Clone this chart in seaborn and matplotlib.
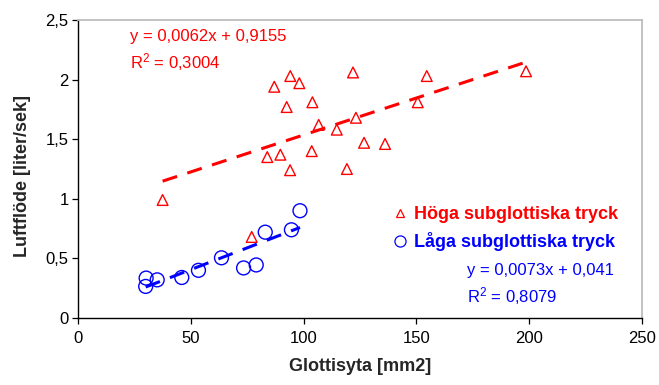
import numpy as np
import pandas as pd
import matplotlib
matplotlib.use("Agg")
import matplotlib.pyplot as plt
from matplotlib.lines import Line2D
import seaborn as sns

# ---- data ----
high_x = [87.0, 94.1, 98.1, 121.9, 154.6, 92.5, 103.9, 106.7, 114.7, 123.2,
          150.6, 83.9, 89.7, 103.6, 126.8, 136.1, 94.0, 119.2, 198.6, 37.5, 77.0]
high_y = [1.94, 2.03, 1.97, 2.06, 2.03, 1.77, 1.81, 1.62, 1.58, 1.68,
          1.81, 1.35, 1.37, 1.40, 1.47, 1.46, 1.24, 1.25, 2.07, 0.99, 0.68]
low_x = [98.4, 83.0, 94.6, 79.0, 73.4, 63.6, 53.4, 46.0, 35.1, 30.2, 30.0]
low_y = [0.90, 0.72, 0.74, 0.445, 0.42, 0.505, 0.40, 0.34, 0.32, 0.335, 0.265]

high_fit = [0.0062, 0.9155]   # slope, intercept
low_fit = [0.0073, 0.041]

series_labels = ["Höga subglottiska tryck", "Låga subglottiska tryck"]
high_eq = ["y = 0,0062x + 0,9155", "R$^2$ = 0,3004"]
low_eq = ["y = 0,0073x + 0,041", "R$^2$ = 0,8079"]

xticks = [0, 50, 100, 150, 200, 250]
xtick_labels = ["0", "50", "100", "150", "200", "250"]
yticks = [0, 0.5, 1, 1.5, 2, 2.5]
ytick_labels = ["0", "0,5", "1", "1,5", "2", "2,5"]
xlabel = "Glottisyta [mm2]"
ylabel = "Luftflöde [liter/sek]"

# ---- style ----
sns.set_style("ticks")
plt.rcParams['font.family'] = ['Liberation Sans', 'DejaVu Sans']
plt.rcParams['mathtext.default'] = 'regular'

W, H = 659, 385
fig = plt.figure(figsize=(W / 100, H / 100), dpi=100)
ax = fig.add_axes([78 / W, 1 - 318 / H, (642 - 78) / W, (318 - 20) / H])

high = pd.DataFrame({"x": high_x, "y": high_y})
low = pd.DataFrame({"x": low_x, "y": low_y})

sns.scatterplot(data=high, x="x", y="y", marker="^", s=60, facecolor="none",
                edgecolor="#ff0000", linewidth=1.0, ax=ax, zorder=3, legend=False)
sns.scatterplot(data=low, x="x", y="y", marker="o", s=100, facecolor="none",
                edgecolor="#0000ff", linewidth=1.0, ax=ax, zorder=3, legend=False)

# trendlines from stated coefficients over each series' x range
hx = np.array([min(high_x), max(high_x)])
lx = np.array([min(low_x), max(low_x)])
sns.lineplot(x=hx, y=high_fit[0] * hx + high_fit[1], color="#ff0000", lw=2.2,
             linestyle=(0, (5, 3.5)), ax=ax, zorder=4)
sns.lineplot(x=lx, y=low_fit[0] * lx + low_fit[1], color="#0000ff", lw=2.2,
             linestyle=(0, (5, 3.5)), ax=ax, zorder=4)

ax.set_xlim(0, 250)
ax.set_ylim(0, 2.5)
ax.set_xticks(xticks)
ax.set_xticklabels(xtick_labels)
ax.set_yticks(yticks)
ax.set_yticklabels(ytick_labels)
ax.tick_params(axis="both", labelsize=12, length=4.3, width=0.9, colors="black")
ax.tick_params(axis="x", pad=5)
ax.tick_params(axis="y", pad=2.5)
ax.set_xlabel(xlabel, fontsize=13, fontweight="bold", labelpad=9)
ax.set_ylabel(ylabel, fontsize=13, fontweight="bold")
ax.yaxis.set_label_coords((31 - 78) / 564, (318 - 176) / 298)

for s in ["left", "bottom"]:
    ax.spines[s].set_color("black")
    ax.spines[s].set_linewidth(1.0)
for s in ["top", "right"]:
    ax.spines[s].set_visible(True)
    ax.spines[s].set_color("#bdbdbd")
    ax.spines[s].set_linewidth(1.3)

# legend
handles = [
    Line2D([], [], marker="^", ls="", mfc="none", mec="#ff0000", ms=5.5, mew=0.9),
    Line2D([], [], marker="o", ls="", mfc="none", mec="#0000ff", ms=8, mew=0.9),
]
leg = ax.legend(handles=handles, labels=series_labels, loc="upper left",
                bbox_to_anchor=(391 / W, 1 - 206 / H), bbox_transform=fig.transFigure,
                frameon=False, borderpad=0, borderaxespad=0, handlelength=1.0,
                handletextpad=0.3, labelspacing=0.5,
                prop={"size": 13, "weight": "bold"})
for t, c in zip(leg.get_texts(), ["#ff0000", "#0000ff"]):
    t.set_color(c)

# equations
fig.text(130 / W, 1 - 37 / H, high_eq[0], color="#ff0000", fontsize=12, va="center")
fig.text(130 / W, 1 - 62 / H, high_eq[1], color="#ff0000", fontsize=12, va="center")
fig.text(467 / W, 1 - 270 / H, low_eq[0], color="#0000ff", fontsize=12, va="center")
fig.text(467 / W, 1 - 296 / H, low_eq[1], color="#0000ff", fontsize=12, va="center")

fig.savefig("out.png", dpi=100)
